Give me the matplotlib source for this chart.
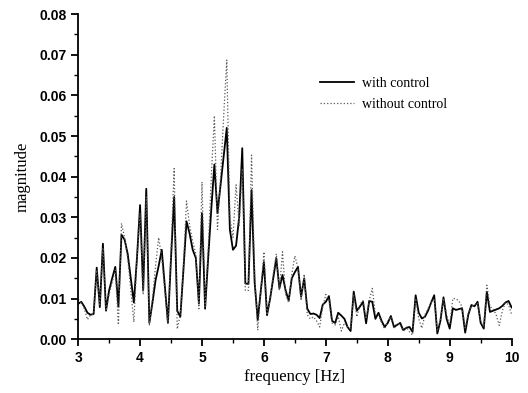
import matplotlib
matplotlib.use('Agg')
import matplotlib.pyplot as plt
from matplotlib.ticker import MultipleLocator
import numpy as np

# frequency grid, 0.05 Hz steps from 3 to 10 Hz
freq = np.round(np.arange(3.0, 10.0001, 0.05), 2)

with_control = [
    # 3.00 - 3.95
    0.0087, 0.0092, 0.0080, 0.0065, 0.0060, 0.0062, 0.0176, 0.0079, 0.0235, 0.0070,
    0.0120, 0.0150, 0.0178, 0.0080, 0.0257, 0.0245, 0.0210, 0.0150, 0.0090, 0.0200,
    # 4.00 - 4.95
    0.0330, 0.0120, 0.0370, 0.0040, 0.0090, 0.0145, 0.0180, 0.0220, 0.0130, 0.0040,
    0.0200, 0.0350, 0.0070, 0.0055, 0.0170, 0.0290, 0.0260, 0.0220, 0.0200, 0.0088,
    # 5.00 - 5.95
    0.0310, 0.0075, 0.0200, 0.0320, 0.0430, 0.0310, 0.0380, 0.0450, 0.0520, 0.0270,
    0.0220, 0.0230, 0.0300, 0.0470, 0.0137, 0.0136, 0.0367, 0.0140, 0.0047, 0.0120,
    # 6.00 - 6.95
    0.0190, 0.0059, 0.0100, 0.0150, 0.0199, 0.0125, 0.0158, 0.0120, 0.0095, 0.0150,
    0.0165, 0.0178, 0.0104, 0.0150, 0.0075, 0.0062, 0.0063, 0.0060, 0.0052, 0.0085,
    # 7.00 - 7.95
    0.0092, 0.0106, 0.0045, 0.0040, 0.0065, 0.0058, 0.0050, 0.0030, 0.0020, 0.0117,
    0.0070, 0.0080, 0.0092, 0.0039, 0.0094, 0.0092, 0.0050, 0.0065, 0.0045, 0.0030,
    # 8.00 - 8.95
    0.0040, 0.0057, 0.0030, 0.0035, 0.0040, 0.0022, 0.0028, 0.0030, 0.0018, 0.0108,
    0.0065, 0.0051, 0.0055, 0.0070, 0.0090, 0.0108, 0.0014, 0.0045, 0.0103, 0.0050,
    # 9.00 - 9.95
    0.0026, 0.0076, 0.0072, 0.0074, 0.0076, 0.0016, 0.0060, 0.0084, 0.0081, 0.0092,
    0.0040, 0.0026, 0.0117, 0.0067, 0.0070, 0.0073, 0.0076, 0.0082, 0.0090, 0.0094,
    # 10.00
    0.0078,
]

without_control = [
    # 3.00 - 3.95
    0.0098, 0.0090, 0.0075, 0.0048, 0.0060, 0.0062, 0.0170, 0.0085, 0.0225, 0.0070,
    0.0110, 0.0140, 0.0170, 0.0035, 0.0285, 0.0250, 0.0200, 0.0120, 0.0042, 0.0200,
    # 4.00 - 4.95
    0.0310, 0.0110, 0.0350, 0.0035, 0.0100, 0.0180, 0.0250, 0.0200, 0.0120, 0.0040,
    0.0220, 0.0420, 0.0025, 0.0060, 0.0180, 0.0340, 0.0280, 0.0240, 0.0210, 0.0075,
    # 5.00 - 5.95
    0.0387, 0.0080, 0.0220, 0.0400, 0.0550, 0.0270, 0.0400, 0.0550, 0.0687, 0.0300,
    0.0250, 0.0380, 0.0280, 0.0420, 0.0120, 0.0120, 0.0453, 0.0160, 0.0022, 0.0120,
    # 6.00 - 6.95
    0.0215, 0.0060, 0.0095, 0.0160, 0.0210, 0.0120, 0.0215, 0.0110, 0.0090, 0.0160,
    0.0205, 0.0175, 0.0095, 0.0160, 0.0060, 0.0050, 0.0055, 0.0045, 0.0030, 0.0080,
    # 7.00 - 7.95
    0.0110, 0.0095, 0.0040, 0.0035, 0.0055, 0.0020, 0.0040, 0.0030, 0.0025, 0.0110,
    0.0055, 0.0085, 0.0095, 0.0050, 0.0095, 0.0125, 0.0060, 0.0060, 0.0040, 0.0025,
    # 8.00 - 8.95
    0.0045, 0.0055, 0.0025, 0.0040, 0.0035, 0.0020, 0.0030, 0.0018, 0.0010, 0.0100,
    0.0050, 0.0027, 0.0060, 0.0075, 0.0090, 0.0100, 0.0020, 0.0050, 0.0100, 0.0060,
    # 9.00 - 9.95
    0.0035, 0.0100, 0.0100, 0.0093, 0.0080, 0.0025, 0.0065, 0.0080, 0.0085, 0.0090,
    0.0045, 0.0030, 0.0133, 0.0080, 0.0075, 0.0060, 0.0034, 0.0070, 0.0090, 0.0085,
    # 10.00
    0.0060,
]

fig = plt.figure(figsize=(5.28, 3.93), dpi=100)
ax = fig.add_axes([0.148, 0.137, 0.821, 0.827])

ax.plot(freq, with_control, color='black', lw=1.3, label='with control')
ax.plot(freq, without_control, color='0.35', lw=0.9, ls=':', label='without control')

ax.set_xlim(3, 10)
ax.set_ylim(0, 0.08)
ax.xaxis.set_major_locator(MultipleLocator(1))
ax.xaxis.set_minor_locator(MultipleLocator(0.5))
ax.yaxis.set_major_locator(MultipleLocator(0.01))
ax.yaxis.set_minor_locator(MultipleLocator(0.005))
ax.yaxis.set_major_formatter(matplotlib.ticker.FormatStrFormatter('%.2f'))

for side in ['top', 'right']:
    ax.spines[side].set_visible(False)
for side in ['left', 'bottom']:
    ax.spines[side].set_linewidth(1.3)

ax.tick_params(which='major', direction='out', length=5, width=1.3)
ax.tick_params(which='minor', direction='out', length=3, width=1.0)
for lbl in ax.get_xticklabels() + ax.get_yticklabels():
    lbl.set_family('Liberation Sans')
    lbl.set_fontweight('bold')
    lbl.set_fontsize(10)

ax.set_xlabel('frequency [Hz]', family='Liberation Serif', fontsize=12, labelpad=3)
ax.set_ylabel('magnitude', family='Liberation Serif', fontsize=12, labelpad=6)

ax.legend(loc='upper left', bbox_to_anchor=(0.53, 0.845), frameon=False,
          prop={'family': 'Liberation Serif', 'size': 10},
          handlelength=2.4, handletextpad=0.6, labelspacing=0.55)

fig.savefig('out.png', dpi=100)
